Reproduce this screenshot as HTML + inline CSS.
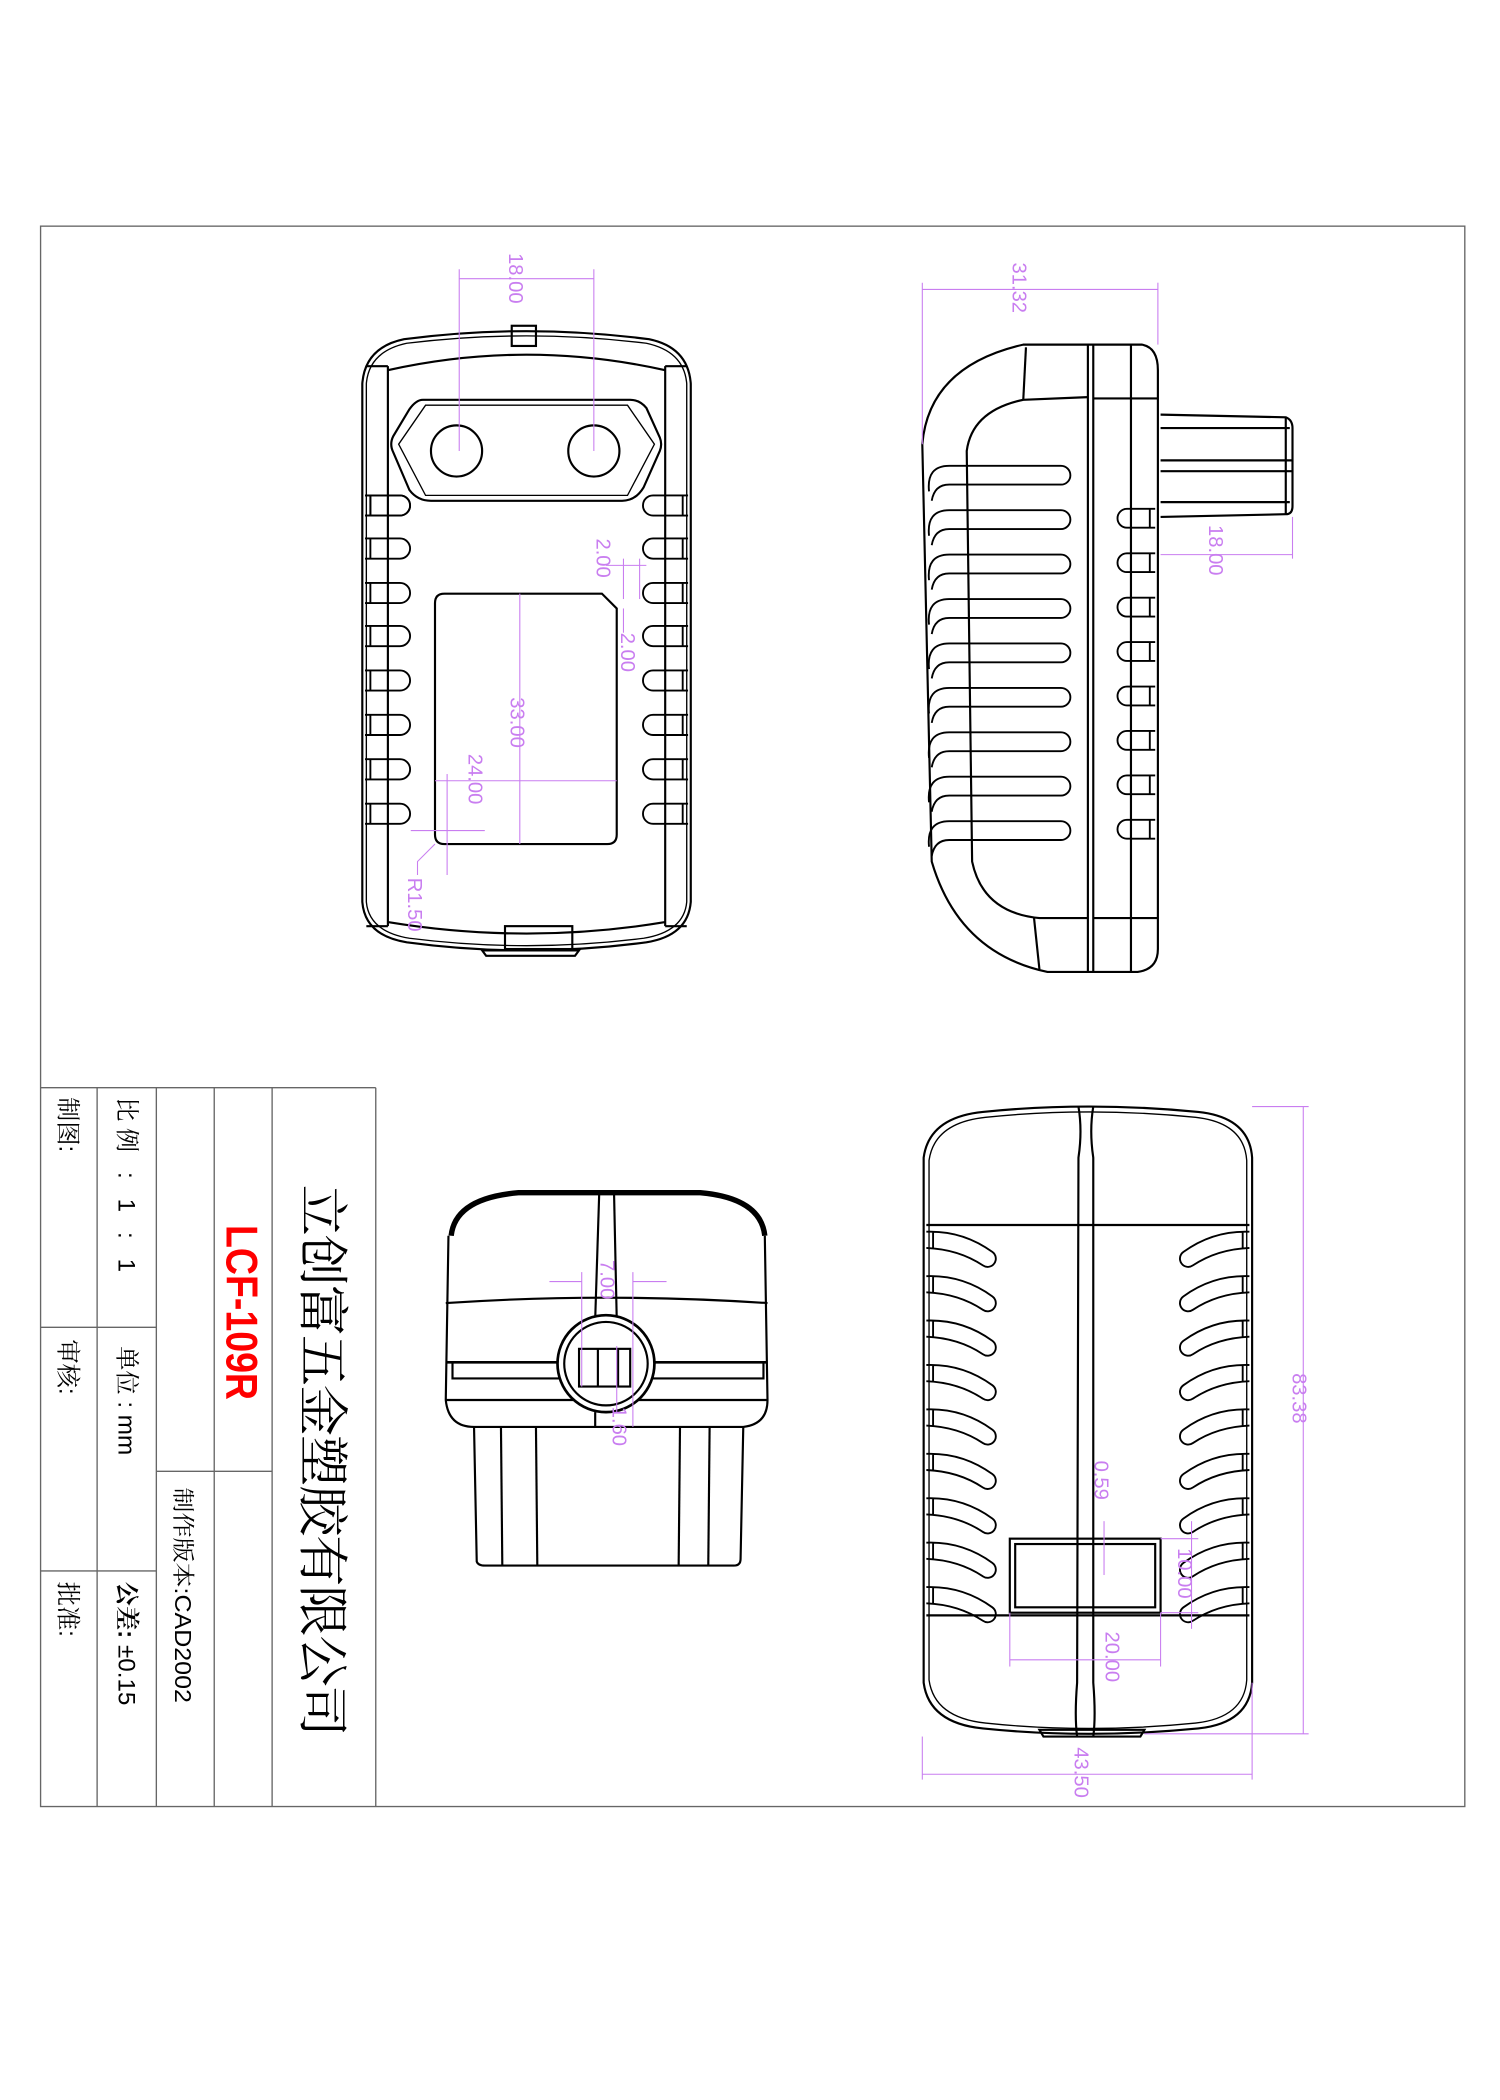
<!DOCTYPE html>
<html><head><meta charset="utf-8"><style>
html,body{margin:0;padding:0;background:#fff;}
svg{display:block;}
text{font-family:"Liberation Sans","Noto Serif CJK SC","Noto Sans CJK SC",sans-serif;}
.d{fill:#c97ef0;font-size:15px;font-family:"Liberation Sans",sans-serif;}
</style></head><body>
<svg width="1500" height="2100" viewBox="0 0 1114 1560" xmlns="http://www.w3.org/2000/svg">
<rect x="0" y="0" width="1114" height="1560" fill="#fff"/>
<!-- frame -->
<rect x="30" y="168" width="1058" height="1174" fill="none" stroke="#666" stroke-width="1"/>
<!-- title block -->
<g stroke="#666" stroke-width="1" fill="none">
<line x1="30" y1="808" x2="279" y2="808"/>
<line x1="72" y1="808" x2="72" y2="1342"/>
<line x1="116" y1="808" x2="116" y2="1342"/>
<line x1="159" y1="808" x2="159" y2="1342"/>
<line x1="202" y1="808" x2="202" y2="1342"/>
<line x1="279" y1="808" x2="279" y2="1342"/>
<line x1="30" y1="986" x2="116" y2="986"/>
<line x1="30" y1="1167" x2="116" y2="1167"/>
<line x1="116" y1="1093" x2="202" y2="1093"/>
</g>
<g fill="#000">
<text transform="translate(226,880) rotate(90)" font-size="38" font-family="Noto Serif CJK SC,serif" textLength="410" lengthAdjust="spacing">立创富五金塑胶有限公司</text>
<text transform="translate(168,910) rotate(90)" font-size="33" font-weight="bold" fill="#f00" textLength="130" lengthAdjust="spacingAndGlyphs">LCF-109R</text>
<text transform="translate(130,1105) rotate(90)" font-size="17" textLength="160" lengthAdjust="spacingAndGlyphs">制作版本:CAD2002</text>
<text transform="translate(88,815) rotate(90)" font-size="18" font-family="Noto Serif CJK SC,serif" textLength="130" lengthAdjust="spacing">比例 : 1 : 1</text>
<text transform="translate(88,1000) rotate(90)" font-size="18" font-family="Noto Serif CJK SC,serif">单位 : mm</text>
<text transform="translate(88,1175) rotate(90)" font-size="18" font-family="Noto Serif CJK SC,serif"><tspan font-weight="bold">公差:</tspan> ±0.15</text>
<text transform="translate(44,815) rotate(90)" font-size="18" font-family="Noto Serif CJK SC,serif">制图:</text>
<text transform="translate(44,995) rotate(90)" font-size="18" font-family="Noto Serif CJK SC,serif">审核:</text>
<text transform="translate(44,1175) rotate(90)" font-size="18" font-family="Noto Serif CJK SC,serif">批准:</text>
</g>

<!-- FRONT VIEW -->
<g fill="none" stroke="#000" stroke-width="1.6">
<path d="M269,285 Q271,258 300,252 Q391,240 482,252 Q511,258 513,285 L513,670 Q511,695 480,700 Q391,712 302,700 Q271,695 269,670 Z"/>
<path d="M272,285 Q274,261 302,255 Q391,244 480,255 Q508,261 510,285 L510,670 Q508,692 478,697 Q391,708 304,697 Q274,692 272,670 Z" stroke-width="1"/>
<line x1="288" y1="272" x2="288" y2="688"/><line x1="494" y1="272" x2="494" y2="688"/>
<path d="M288,275 Q391,252 494,275"/><path d="M288,685 Q391,702 494,685"/>
<line x1="272" y1="272" x2="288" y2="272"/><line x1="494" y1="272" x2="510" y2="272"/>
<line x1="272" y1="688" x2="288" y2="688"/><line x1="494" y1="688" x2="510" y2="688"/>
<rect x="380" y="242" width="18" height="15"/>
<rect x="375" y="688" width="50" height="17"/>
<path d="M358,706 L430,706 L427,710 L361,710 Z"/>
<path d="M314,297 L468,297 Q475,297 480,303 L490,325 Q492,330 490,335 L478,362 Q472,372 462,372 L320,372 Q310,372 304,364 L292,336 Q289,330 292,324 L304,304 Q309,297 314,297 Z"/>
<path d="M316,301 L466,301 L486,330 L466,368 L316,368 L296,330 Z" stroke-width="1"/>
<circle cx="339" cy="335" r="19"/><circle cx="441" cy="335" r="19"/>
<path d="M330,441 L447,441 L458,452 L458,620 Q458,627 451,627 L330,627 Q323,627 323,620 L323,448 Q323,441 330,441 Z"/>
</g>
<g fill="none" stroke="#000" stroke-width="1.4">
<path id="sl" d="M271,368 L297,368 A7.5,7.5 0 0 1 297,383 L271,383 M275,368 L275,383"/>
<use href="#sl" y="0"/>
<use href="#sl" transform="translate(0,32)"/><use href="#sl" transform="translate(0,65)"/><use href="#sl" transform="translate(0,97)"/><use href="#sl" transform="translate(0,130)"/><use href="#sl" transform="translate(0,163)"/><use href="#sl" transform="translate(0,196)"/><use href="#sl" transform="translate(0,229)"/>
<g transform="translate(782,0) scale(-1,1)">
<use href="#sl"/><use href="#sl" transform="translate(0,32)"/><use href="#sl" transform="translate(0,65)"/><use href="#sl" transform="translate(0,97)"/><use href="#sl" transform="translate(0,130)"/><use href="#sl" transform="translate(0,163)"/><use href="#sl" transform="translate(0,196)"/><use href="#sl" transform="translate(0,229)"/>
</g>
</g>
<g stroke="#c97ef0" stroke-width="0.8" fill="none">
<line x1="341" y1="200" x2="341" y2="335"/><line x1="441" y1="200" x2="441" y2="335"/>
<line x1="341" y1="207" x2="441" y2="207"/>
<line x1="386" y1="441" x2="386" y2="627"/>
<line x1="323" y1="580" x2="458" y2="580"/>
<line x1="332" y1="575" x2="332" y2="650"/><line x1="305" y1="617" x2="360" y2="617"/>
<path d="M323,627 L310,640 L310,650"/>
<line x1="450" y1="420" x2="480" y2="420"/><line x1="463" y1="415" x2="463" y2="445"/><line x1="475" y1="415" x2="475" y2="445"/>
<line x1="463" y1="452" x2="463" y2="470"/>
</g>
<g class="d">
<text transform="translate(378,188) rotate(90)" class="d">18.00</text>
<text transform="translate(379,518) rotate(90)" class="d">33.00</text>
<text transform="translate(348,560) rotate(90)" class="d">24.00</text>
<text transform="translate(443,400) rotate(90)" class="d">2.00</text>
<text transform="translate(461,470) rotate(90)" class="d">2.00</text>
<text transform="translate(303,652) rotate(90)" class="d">R1.50</text>
</g>

<!-- SIDE VIEW -->
<g fill="none" stroke="#000" stroke-width="1.6">
<path d="M760,256 L848,256 Q860,258 860,275 L860,705 Q860,720 845,722 L778,722 Q712,708 692,640 L685,330 Q690,272 760,256 Z"/>
<path d="M808,295 L760,297 Q722,305 718,335 L722,640 Q730,678 772,682 L808,682"/>
<line x1="762" y1="258" x2="760" y2="297"/><line x1="768" y1="682" x2="772" y2="720"/>
<line x1="808" y1="256" x2="808" y2="722"/><line x1="812" y1="256" x2="812" y2="722"/>
<line x1="840" y1="256" x2="840" y2="722"/>
<line x1="812" y1="296" x2="860" y2="296"/><line x1="812" y1="682" x2="860" y2="682"/>
<path d="M862,308 L955,310 Q960,312 960,318 L960,376 Q960,382 955,382 L862,384"/>
<line x1="862" y1="318" x2="958" y2="318"/><line x1="862" y1="342" x2="960" y2="342"/><line x1="862" y1="350" x2="960" y2="350"/><line x1="862" y1="373" x2="958" y2="373"/>
<line x1="955" y1="310" x2="955" y2="382"/>
</g>
<g fill="none" stroke="#000" stroke-width="1.4">
<path id="rb" d="M690,365 Q688,346 705,346 L788,346 A7,7 0 0 1 788,360 L705,360 Q694,360 692,372"/>
<use href="#rb" transform="translate(0,33)"/><use href="#rb" transform="translate(0,66)"/><use href="#rb" transform="translate(0,99)"/><use href="#rb" transform="translate(0,132)"/><use href="#rb" transform="translate(0,165)"/><use href="#rb" transform="translate(0,198)"/><use href="#rb" transform="translate(0,231)"/><use href="#rb" transform="translate(0,264)"/>
<path id="ps" d="M858,378 L837,378 A7,7 0 0 0 837,392 L858,392 M854,378 L854,392"/>
<use href="#ps" transform="translate(0,33)"/><use href="#ps" transform="translate(0,66)"/><use href="#ps" transform="translate(0,99)"/><use href="#ps" transform="translate(0,132)"/><use href="#ps" transform="translate(0,165)"/><use href="#ps" transform="translate(0,198)"/><use href="#ps" transform="translate(0,231)"/>
</g>
<g stroke="#c97ef0" stroke-width="0.8" fill="none">
<line x1="685" y1="210" x2="685" y2="330"/><line x1="860" y1="210" x2="860" y2="256"/>
<line x1="685" y1="215" x2="860" y2="215"/>
<line x1="862" y1="412" x2="960" y2="412"/><line x1="960" y1="384" x2="960" y2="415"/>
</g>
<text transform="translate(752,195) rotate(90)" class="d">31.32</text>
<text transform="translate(898,390) rotate(90)" class="d">18.00</text>

<!-- END VIEW -->
<g fill="none" stroke="#000" stroke-width="1.6">
<path d="M335,918 Q338,890 385,886 L520,886 Q565,890 568,918" stroke-width="4"/>
<path d="M333,918 L331,1040 Q333,1060 352,1060 L552,1060 Q570,1058 570,1040 L568,918"/>
<path d="M331,968 Q450,960 570,968"/>
<line x1="331" y1="1012" x2="570" y2="1012" stroke-width="2"/>
<path d="M336,1012 L336,1024 L567,1024 L567,1012"/>
<line x1="331" y1="1040" x2="570" y2="1040"/>
<line x1="445" y1="886" x2="442" y2="980"/><line x1="456" y1="886" x2="458" y2="980"/>
<circle cx="450" cy="1013" r="36" fill="#fff" stroke-width="2"/><circle cx="450" cy="1013" r="31"/>
<rect x="430" y="1002" width="38" height="28"/><line x1="444" y1="1002" x2="444" y2="1030"/><line x1="459" y1="1002" x2="459" y2="1030"/>
<line x1="442" y1="1049" x2="442" y2="1060"/>
<path d="M352,1060 L354,1160 Q355,1163 360,1163 L545,1163 Q550,1163 550,1158 L552,1060"/>
<line x1="372" y1="1060" x2="373" y2="1163"/><line x1="398" y1="1060" x2="399" y2="1163"/>
<line x1="505" y1="1060" x2="504" y2="1163"/><line x1="527" y1="1060" x2="526" y2="1163"/>
</g>
<g stroke="#c97ef0" stroke-width="0.8" fill="none">
<line x1="408" y1="952" x2="432" y2="952"/><line x1="470" y1="952" x2="495" y2="952"/>
<line x1="432" y1="945" x2="432" y2="1030"/><line x1="470" y1="945" x2="470" y2="1060"/>
<line x1="458" y1="1000" x2="458" y2="1050"/>
</g>
<text transform="translate(446,936) rotate(90)" class="d">7.00</text>
<text transform="translate(455,1045) rotate(90)" class="d">1.60</text>

<!-- BOTTOM VIEW -->
<g fill="none" stroke="#000" stroke-width="1.6">
<path d="M686,860 Q690,830 730,826 Q808,818 890,826 Q928,830 930,860 L930,1250 Q928,1280 890,1284 Q808,1292 730,1284 Q690,1280 686,1250 Z"/>
<path d="M690,862 Q694,834 732,830 Q808,822 888,830 Q924,834 926,862 L926,1248 Q924,1276 888,1280 Q808,1288 732,1280 Q694,1276 690,1248 Z" stroke-width="1"/>
<line x1="688" y1="910" x2="928" y2="910"/>
<path d="M801,822 Q804,840 801,860 L800,1250 Q798,1275 800,1290"/>
<path d="M812,822 Q809,840 812,860 L812,1250 Q814,1275 812,1290"/>
<line x1="688" y1="1200" x2="928" y2="1200"/>
<rect x="750" y="1143" width="112" height="55"/><rect x="754" y="1147" width="104" height="47"/>
<path d="M772,1285 L850,1285 L847,1290 L775,1290 Z"/>
</g>
<g fill="none" stroke="#000" stroke-width="1.4">
<path id="cr" d="M688,915 Q715,914 737,930 A6,6 0 0 1 730,940 Q712,928 688,927 M693,915 L693,927"/>
<use href="#cr" transform="translate(0,33)"/><use href="#cr" transform="translate(0,66)"/><use href="#cr" transform="translate(0,99)"/><use href="#cr" transform="translate(0,132)"/><use href="#cr" transform="translate(0,165)"/><use href="#cr" transform="translate(0,198)"/><use href="#cr" transform="translate(0,231)"/><use href="#cr" transform="translate(0,264)"/>
<g transform="translate(1616,0) scale(-1,1)">
<use href="#cr"/><use href="#cr" transform="translate(0,33)"/><use href="#cr" transform="translate(0,66)"/><use href="#cr" transform="translate(0,99)"/><use href="#cr" transform="translate(0,132)"/><use href="#cr" transform="translate(0,165)"/><use href="#cr" transform="translate(0,198)"/><use href="#cr" transform="translate(0,231)"/><use href="#cr" transform="translate(0,264)"/>
</g>
</g>
<g stroke="#c97ef0" stroke-width="0.8" fill="none">
<line x1="930" y1="822" x2="972" y2="822"/><line x1="850" y1="1288" x2="972" y2="1288"/>
<line x1="968" y1="822" x2="968" y2="1288"/>
<line x1="685" y1="1290" x2="685" y2="1322"/><line x1="930" y1="1250" x2="930" y2="1322"/>
<line x1="685" y1="1318" x2="930" y2="1318"/>
<line x1="750" y1="1198" x2="750" y2="1238"/><line x1="862" y1="1198" x2="862" y2="1238"/>
<line x1="750" y1="1233" x2="862" y2="1233"/>
<line x1="820" y1="1130" x2="820" y2="1170"/>
<line x1="862" y1="1143" x2="890" y2="1143"/><line x1="862" y1="1198" x2="890" y2="1198"/>
<line x1="885" y1="1130" x2="885" y2="1210"/>
</g>
<text transform="translate(960,1020) rotate(90)" class="d">83.38</text>
<text transform="translate(798,1298) rotate(90)" class="d">43.50</text>
<text transform="translate(821,1212) rotate(90)" class="d">20.00</text>
<text transform="translate(813,1085) rotate(90)" class="d">0.59</text>
<text transform="translate(875,1150) rotate(90)" class="d">10.00</text>
</svg>
</body></html>
